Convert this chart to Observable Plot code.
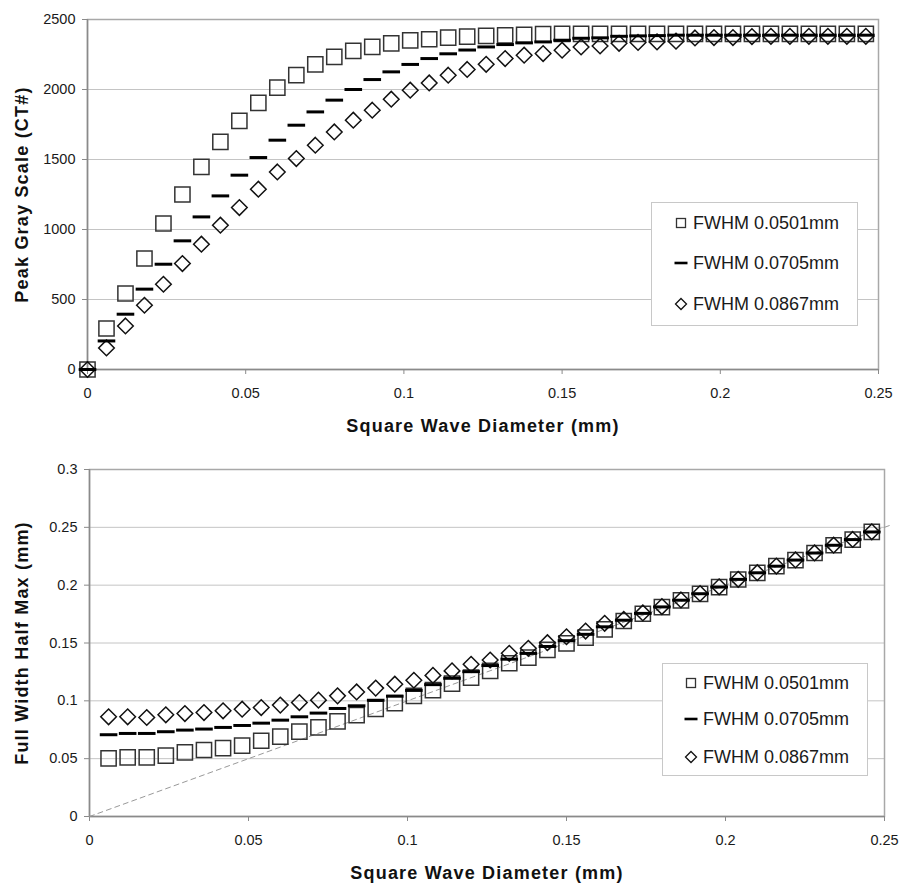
<!DOCTYPE html>
<html>
<head>
<meta charset="utf-8">
<script src="https://cdn.jsdelivr.net/npm/d3@7"></script>
<script src="https://cdn.jsdelivr.net/npm/@observablehq/plot@0.6"></script>
<style>
  body { margin: 0; background: #fff; font-family: "Liberation Sans", Arial, sans-serif; }
  #wrap { position: relative; width: 902px; height: 886px; overflow: hidden; }
  .panel { position: absolute; left: 0; }
  .panel svg g[aria-label="text"] text { letter-spacing: 1.2px; }
  .legend { position: absolute; background: #fff; border: 1px solid #c8c8c8; box-sizing: border-box; font-size: 18px; color: #1a1a1a; }
  .legend .row { position: absolute; left: 0; height: 20px; transform: translateY(-50%); white-space: nowrap; }
  .legend .row svg { position: absolute; top: 0; }
  .legend .row span { position: absolute; top: 0; line-height: 20px; }
</style>
</head>
<body>
<div id="wrap">
  <div class="panel" id="top" style="top:0"></div>
  <div class="panel" id="bottom" style="top:440px"></div>
</div>
<script>
// ---------- data ----------
const seriesNames = ["FWHM 0.0501mm", "FWHM 0.0705mm", "FWHM 0.0867mm"];

const xTicks = [0, 0.05, 0.1, 0.15, 0.2, 0.25];
const xTickLabels = ["0", "0.05", "0.1", "0.15", "0.2", "0.25"];
const topYTicks = [0, 500, 1000, 1500, 2000, 2500];
const topYTickLabels = ["0", "500", "1000", "1500", "2000", "2500"];
const botYTicks = [0, 0.05, 0.1, 0.15, 0.2, 0.25, 0.3];
const botYTickLabels = ["0", "0.05", "0.1", "0.15", "0.2", "0.25", "0.3"];

const topTitleX = "Square Wave Diameter (mm)";
const topTitleY = "Peak Gray Scale (CT#)";
const botTitleX = "Square Wave Diameter (mm)";
const botTitleY = "Full Width Half Max (mm)";

// Square wave diameters (mm), top chart
const diameterTop = [0, 0.006, 0.012, 0.018, 0.024, 0.030, 0.036, 0.042, 0.048, 0.054,
  0.060, 0.066, 0.072, 0.078, 0.084, 0.090, 0.096, 0.102, 0.108, 0.114,
  0.120, 0.126, 0.132, 0.138, 0.144, 0.150, 0.156, 0.162, 0.168, 0.174,
  0.180, 0.186, 0.192, 0.198, 0.204, 0.210, 0.216, 0.222, 0.228, 0.234,
  0.240, 0.246];

// Peak gray scale (CT#)
const peak0501 = [0, 293, 543, 793, 1043, 1250, 1447, 1626, 1776, 1904,
  2014, 2102, 2179, 2233, 2276, 2304, 2329, 2351, 2359, 2371,
  2378, 2383, 2386, 2390, 2395, 2398, 2398, 2398, 2398, 2398,
  2398, 2398, 2398, 2398, 2398, 2398, 2398, 2398, 2398, 2398,
  2398, 2398];
const peak0705 = [0, 204, 395, 574, 752, 919, 1090, 1240, 1388, 1514,
  1638, 1745, 1840, 1924, 2000, 2071, 2126, 2179, 2221, 2255,
  2282, 2304, 2321, 2333, 2340, 2352, 2366, 2369, 2380, 2383,
  2385, 2388, 2388, 2388, 2388, 2388, 2388, 2388, 2388, 2388,
  2388, 2388];
const peak0867 = [0, 154, 311, 459, 609, 757, 895, 1031, 1157, 1288,
  1411, 1507, 1602, 1697, 1781, 1852, 1931, 1995, 2047, 2102,
  2143, 2180, 2221, 2245, 2257, 2281, 2304, 2311, 2330, 2336,
  2340, 2345, 2368, 2371, 2371, 2378, 2380, 2380, 2380, 2380,
  2380, 2380];

// Square wave diameters (mm), bottom chart
const diameterBot = [0.006, 0.012, 0.018, 0.024, 0.030, 0.036, 0.042, 0.048, 0.054,
  0.060, 0.066, 0.072, 0.078, 0.084, 0.090, 0.096, 0.102, 0.108, 0.114,
  0.120, 0.126, 0.132, 0.138, 0.144, 0.150, 0.156, 0.162, 0.168, 0.174,
  0.180, 0.186, 0.192, 0.198, 0.204, 0.210, 0.216, 0.222, 0.228, 0.234,
  0.240, 0.246];

// Measured FWHM (mm)
const fwhm0501 = [0.0503, 0.0511, 0.0511, 0.0526, 0.0554, 0.0575, 0.0592, 0.0612, 0.0655,
  0.0690, 0.0733, 0.0770, 0.0822, 0.0876, 0.0930, 0.0980, 0.1043, 0.1092, 0.1149,
  0.1201, 0.1259, 0.1325, 0.1373, 0.1440, 0.1497, 0.1546, 0.1618, 0.1690, 0.1753,
  0.1810, 0.1868, 0.1925, 0.1983, 0.2049, 0.2106, 0.2164, 0.2216, 0.2278, 0.2345,
  0.2394, 0.2460];
const fwhm0705 = [0.0707, 0.0718, 0.0718, 0.0733, 0.0747, 0.0756, 0.0770, 0.0787, 0.0807,
  0.0833, 0.0862, 0.0894, 0.0934, 0.0957, 0.1005, 0.1040, 0.1090, 0.1140, 0.1195,
  0.1252, 0.1305, 0.1360, 0.1410, 0.1470, 0.1520, 0.1575, 0.1640, 0.1697, 0.1756,
  0.1812, 0.1870, 0.1926, 0.1984, 0.2050, 0.2107, 0.2164, 0.2217, 0.2278, 0.2345,
  0.2394, 0.2460];
const fwhm0867 = [0.0862, 0.0862, 0.0856, 0.0879, 0.0890, 0.0899, 0.0914, 0.0928, 0.0942,
  0.0963, 0.0985, 0.1006, 0.1043, 0.1077, 0.1110, 0.1144, 0.1178, 0.1220, 0.1259,
  0.1316, 0.1353, 0.1411, 0.1454, 0.1503, 0.1554, 0.1603, 0.1670, 0.1704, 0.1760,
  0.1815, 0.1872, 0.1928, 0.1986, 0.2051, 0.2108, 0.2165, 0.2218, 0.2279, 0.2346,
  0.2395, 0.2461];

// identity reference line (FWHM = diameter)
const identityLine = [0, 0.252];

// ---------- symbols ----------
const squareSym = { draw(ctx, size) { const r = Math.sqrt(size / Math.PI);
  ctx.moveTo(-r, -r); ctx.lineTo(r, -r); ctx.lineTo(r, r); ctx.lineTo(-r, r); ctx.closePath(); } };
const diamondSym = { draw(ctx, size) { const r = Math.sqrt(size / Math.PI);
  ctx.moveTo(0, -r); ctx.lineTo(r, 0); ctx.lineTo(0, r); ctx.lineTo(-r, 0); ctx.closePath(); } };
const dashSym = { draw(ctx, size) { const r = Math.sqrt(size / Math.PI);
  ctx.moveTo(-r, 0); ctx.lineTo(r, 0); } };

const zip = (xs, ys) => xs.map((x, i) => ({ x, y: ys[i] }));
const fmt = (ticks, labels) => d => labels[ticks.indexOf(d)];

function seriesMarks(xs, a, b, c) {
  return [
    Plot.dot(zip(xs, a), { x: "x", y: "y", symbol: squareSym, r: 7.6, fill: "none", stroke: "#333", strokeWidth: 1.5 }),
    Plot.dot(zip(xs, c), { x: "x", y: "y", symbol: diamondSym, r: 7.8, fill: "none", stroke: "#111", strokeWidth: 1.5 }),
    Plot.dot(zip(xs, b), { x: "x", y: "y", symbol: dashSym, r: 8.8, fill: "none", stroke: "#000", strokeWidth: 3 })
  ];
}

function frameMarks(yTicks, yLabels) {
  return [
    Plot.gridY(yTicks, { stroke: "#c4c4c4", strokeOpacity: 1 }),
    Plot.frame({ stroke: "#a8a8a8", strokeWidth: 1.5 }),
    Plot.ruleX([0], { stroke: "#8a8a8a", strokeWidth: 1.5 }),
    Plot.ruleY([0], { stroke: "#8a8a8a", strokeWidth: 1.5 }),
    Plot.axisX(xTicks, { tickSize: 5, tickPadding: 13, tickFormat: fmt(xTicks, xTickLabels), stroke: "#8a8a8a", label: null }),
    Plot.axisY(yTicks, { tickSize: 5, tickPadding: 7, tickFormat: fmt(yTicks, yLabels), stroke: "#8a8a8a", label: null })
  ];
}

function titleMarks(tx, ty, dxY) {
  return [
    Plot.text([tx], { text: d => d, frameAnchor: "bottom", dy: 57, textAnchor: "middle", lineAnchor: "middle", fontWeight: "bold", fontSize: 18, fill: "#111" }),
    Plot.text([ty], { text: d => d, frameAnchor: "left", dx: dxY, rotate: -90, textAnchor: "middle", lineAnchor: "middle", fontWeight: "bold", fontSize: 18, fill: "#111" })
  ];
}

const baseStyle = { fontFamily: "Liberation Sans, Arial, sans-serif", fontSize: "14.5px", color: "#1a1a1a", background: "white", overflow: "visible" };

// ---------- top chart ----------
const topPlot = Plot.plot({
  width: 902, height: 440,
  marginTop: 19, marginRight: 24, marginBottom: 71, marginLeft: 87,
  style: baseStyle,
  x: { domain: [0, 0.25] },
  y: { domain: [0, 2500] },
  marks: [
    ...frameMarks(topYTicks, topYTickLabels),
    ...seriesMarks(diameterTop, peak0501, peak0705, peak0867),
    ...titleMarks(topTitleX, topTitleY, -65)
  ]
});
document.getElementById("top").appendChild(topPlot);

// ---------- bottom chart ----------
const botPlot = Plot.plot({
  width: 902, height: 446,
  marginTop: 29, marginRight: 18, marginBottom: 70, marginLeft: 89,
  style: baseStyle,
  x: { domain: [0, 0.25] },
  y: { domain: [0, 0.3] },
  marks: [
    ...frameMarks(botYTicks, botYTickLabels),
    Plot.line(identityLine, { x: d => d, y: d => d, stroke: "#999", strokeWidth: 1, strokeDasharray: "5,4" }),
    ...seriesMarks(diameterBot, fwhm0501, fwhm0705, fwhm0867),
    ...titleMarks(botTitleX, botTitleY, -67)
  ]
});
document.getElementById("bottom").appendChild(botPlot);

// ---------- legends ----------
const markerSvg = [
  '<svg width="14" height="20"><rect x="2.5" y="5.5" width="9" height="9" fill="none" stroke="#333" stroke-width="1.3"/></svg>',
  '<svg width="14" height="20"><line x1="0.5" x2="13.5" y1="10" y2="10" stroke="#000" stroke-width="2.6"/></svg>',
  '<svg width="14" height="20"><path d="M7,4.5L12.5,10L7,15.5L1.5,10Z" fill="none" stroke="#111" stroke-width="1.3"/></svg>'
];
function makeLegend(box, rows, markerX, textX) {
  const div = document.createElement("div");
  div.className = "legend";
  Object.assign(div.style, { left: box[0] + "px", top: box[1] + "px", width: box[2] + "px", height: box[3] + "px" });
  seriesNames.forEach((name, i) => {
    const row = document.createElement("div");
    row.className = "row";
    row.style.top = rows[i] + "px";
    row.innerHTML = markerSvg[i].replace("<svg", '<svg style="left:' + (markerX - 7) + 'px"') +
      '<span style="left:' + textX + 'px">' + name + '</span>';
    div.appendChild(row);
  });
  document.getElementById("wrap").appendChild(div);
}
makeLegend([651, 202, 207, 124], [20, 60, 101], 29, 41);
makeLegend([662, 663, 206, 113], [19, 55, 93], 28, 40);
</script>
</body>
</html>
